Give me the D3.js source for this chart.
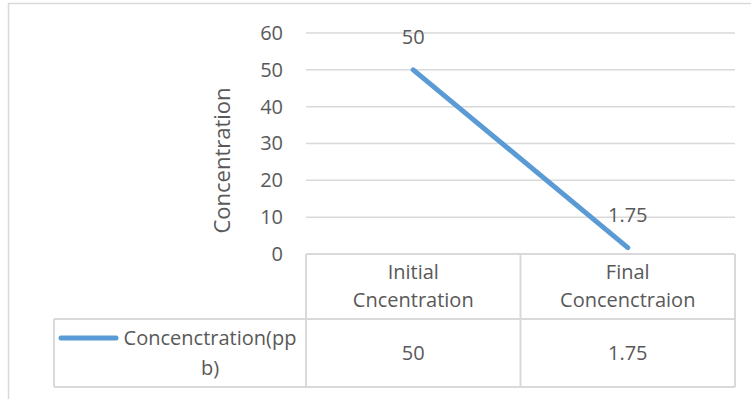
<!DOCTYPE html>
<html>
<head>
<meta charset="utf-8">
<script src="https://cdn.jsdelivr.net/npm/d3@7"></script>
<style>
  body { margin: 0; background: #fff; }
  text { font-family: "Open Sans", sans-serif; fill: #595959; }
</style>
</head>
<body>
<svg id="chart" width="751" height="399"></svg>
<script>
// data
var categories = ["Initial\nCncentration", "Final\nConcenctraion"];
var seriesName = "Concenctration(pp\nb)";
var values = [50, 1.75];
var valueLabels = ["50", "1.75"];
var yTicks = [0, 10, 20, 30, 40, 50, 60];

var svg = d3.select("#chart");

var plotLeft = 306, plotRight = 735, plotTop = 33, plotBottom = 254;
var headerBottom = 319, tableBottom = 387, legendLeft = 54;
var gridColor = "#d9d9d9";
var lineColor = "#5b9bd5";

// scales
var x = d3.scaleBand().domain(categories).range([plotLeft, plotRight]);
var y = d3.scaleLinear().domain([0, 60]).range([plotBottom, plotTop]);

// outer frame
svg.append("rect")
    .attr("x", 8.5).attr("y", 3.5)
    .attr("width", 760).attr("height", 420)
    .attr("fill", "none")
    .attr("stroke", gridColor)
    .attr("stroke-width", 1.5);

// gridlines
svg.selectAll(".grid")
    .data(yTicks.filter(function(d) { return d > 0; }))
    .enter().append("line")
        .attr("x1", plotLeft).attr("x2", plotRight)
        .attr("y1", function(d) { return y(d); })
        .attr("y2", function(d) { return y(d); })
        .attr("stroke", gridColor)
        .attr("stroke-width", 1.5);

// y axis labels
var yAxis = d3.axisLeft(y).tickValues(yTicks).tickSize(0).tickPadding(23);
var yg = svg.append("g")
    .attr("transform", "translate(" + plotLeft + ",0)")
    .call(yAxis);
yg.select(".domain").remove();
yg.selectAll("text")
    .style("font-family", "'Open Sans', sans-serif")
    .style("font-size", "20px")
    .attr("fill", "#595959");

// axis title
svg.append("text")
    .attr("transform", "translate(222," + ((plotTop + plotBottom) / 2 + 17) + ") rotate(-90)")
    .attr("text-anchor", "middle")
    .attr("dy", "0.35em")
    .style("font-size", "22px")
    .text("Concentration");

// data table
var table = svg.append("g").attr("fill", "none").attr("stroke", gridColor).attr("stroke-width", 2);
table.append("line").attr("x1", plotLeft).attr("x2", plotRight).attr("y1", plotBottom).attr("y2", plotBottom);
table.append("line").attr("x1", legendLeft).attr("x2", plotRight).attr("y1", headerBottom).attr("y2", headerBottom);
table.append("line").attr("x1", legendLeft).attr("x2", plotRight).attr("y1", tableBottom).attr("y2", tableBottom);
table.append("line").attr("x1", legendLeft).attr("x2", legendLeft).attr("y1", headerBottom).attr("y2", tableBottom);
var vlines = [plotLeft].concat(categories.map(function(c) { return x(c) + x.bandwidth(); }));
vlines.forEach(function(vx) {
    table.append("line").attr("x1", vx).attr("x2", vx).attr("y1", plotBottom).attr("y2", tableBottom);
});

// header text
categories.forEach(function(c) {
    var t = svg.append("text")
        .attr("text-anchor", "middle")
        .style("font-size", "20px");
    c.split("\n").forEach(function(part, i) {
        t.append("tspan")
            .attr("x", x(c) + x.bandwidth() / 2)
            .attr("y", 272 + i * 28)
            .attr("dy", "0.35em")
            .text(part);
    });
});

// value row
values.forEach(function(v, i) {
    svg.append("text")
        .attr("x", x(categories[i]) + x.bandwidth() / 2)
        .attr("y", 353)
        .attr("dy", "0.35em")
        .attr("text-anchor", "middle")
        .style("font-size", "20px")
        .text(valueLabels[i]);
});

// legend key
svg.append("line")
    .attr("x1", 61).attr("x2", 116)
    .attr("y1", 338).attr("y2", 338)
    .attr("stroke", lineColor)
    .attr("stroke-width", 5)
    .attr("stroke-linecap", "round");

var lt = svg.append("text")
    .attr("text-anchor", "middle")
    .style("font-size", "20px");
seriesName.split("\n").forEach(function(part, i) {
    lt.append("tspan")
        .attr("x", 210)
        .attr("y", 338 + i * 30)
        .attr("dy", "0.35em")
        .text(part);
});

// line
var points = categories.map(function(c, i) { return { cat: c, value: values[i], label: valueLabels[i] }; });
var line = d3.line()
    .x(function(d) { return x(d.cat) + x.bandwidth() / 2; })
    .y(function(d) { return y(d.value); });

svg.append("path")
    .datum(points)
    .attr("d", line)
    .attr("fill", "none")
    .attr("stroke", lineColor)
    .attr("stroke-width", 5)
    .attr("stroke-linecap", "round");

// data labels
svg.selectAll(".dlabel")
    .data(points)
    .enter().append("text")
        .attr("x", function(d) { return x(d.cat) + x.bandwidth() / 2; })
        .attr("y", function(d) { return y(d.value) - 33; })
        .attr("dy", "0.35em")
        .attr("text-anchor", "middle")
        .style("font-size", "20px")
        .text(function(d) { return d.label; });
</script>
</body>
</html>
